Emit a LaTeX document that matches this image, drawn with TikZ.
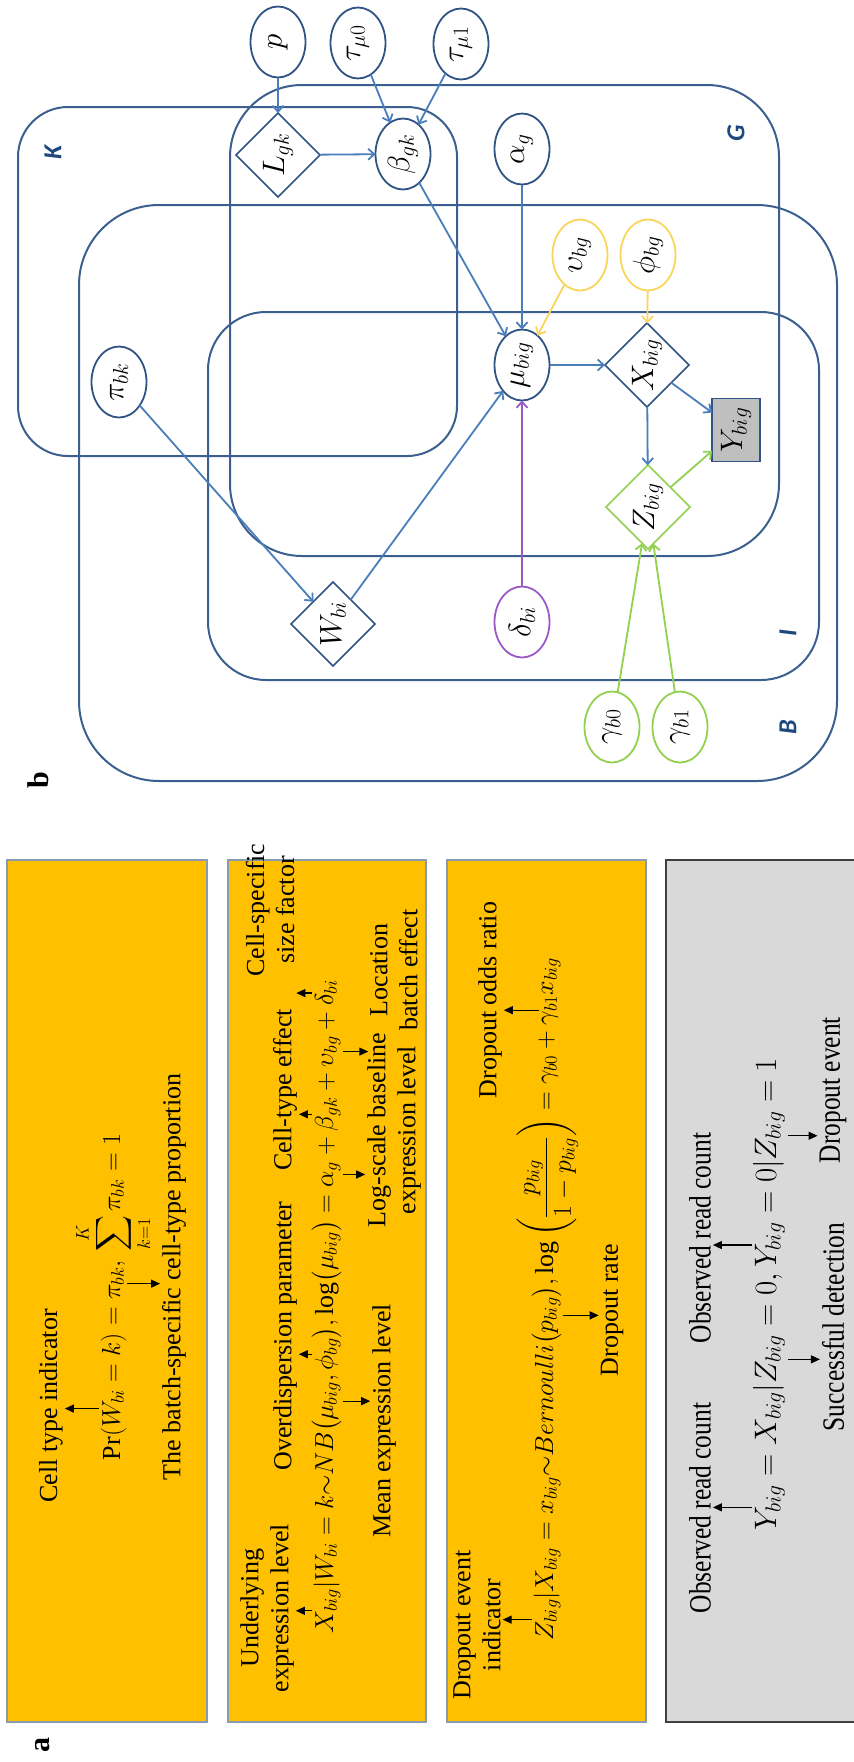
\documentclass[tikz,border=0pt]{standalone}
\usepackage{fix-cm}
\usepackage{amsmath}
\usepackage{fontspec}
\setmainfont{Liberation Serif}
\newfontfamily\platefont{Carlito}
\usetikzlibrary{shapes.geometric,arrows.meta}
\definecolor{plate}{HTML}{3B5F8E}
\definecolor{edgeblue}{HTML}{4A7EBB}
\definecolor{nodeblue}{HTML}{2F5383}
\definecolor{yel}{HTML}{F9D55C}
\definecolor{grn}{HTML}{92D050}
\definecolor{pur}{HTML}{9B59C8}
\definecolor{orng}{HTML}{FFC000}
\definecolor{obord}{HTML}{8A9BB0}
\definecolor{gfill}{HTML}{D9D9D9}
\definecolor{yfill}{HTML}{BFBFBF}
\definecolor{platelab}{HTML}{1F497D}
\tikzset{
  rot/.style={rotate=90, inner sep=0pt, outer sep=0pt},
  txt/.style={rot, font=\fontsize{26}{30}\selectfont, align=center},
  gtxt/.style={rot, xscale=0.82, font=\fontsize{31}{34}\selectfont, align=center},
  mth/.style={rot, font=\fontsize{26}{31}\selectfont, anchor=base west},
  gmth/.style={rot, font=\fontsize{31}{34}\selectfont, anchor=base west},
  aarr/.style={-{Triangle[length=9pt,width=8pt]}, line width=1.2pt, shorten <=3pt, shorten >=2pt},
  ell/.style={rot, ellipse, draw=nodeblue, line width=1.8pt, minimum width=71pt, minimum height=55pt, font=\fontsize{31}{33}\selectfont},
  dia/.style={rot, diamond, draw=nodeblue, line width=1.6pt, minimum width=84pt, minimum height=84pt, font=\fontsize{31}{33}\selectfont},
  platebox/.style={draw=plate, line width=2pt},
  platelabel/.style={rot, text=platelab, font=\fontsize{26}{26}\selectfont\platefont\bfseries\itshape},
  panellabel/.style={rot, font=\fontsize{30}{30}\selectfont\bfseries},
  e/.style={draw=edgeblue, line width=1.8pt, -{Straight Barb[length=6pt,width=11pt]}},
  obox/.style={draw=obord, fill=orng, line width=1.2pt},
  gbox/.style={draw=black!75, fill=gfill, line width=1.2pt},
}
\begin{document}
\begin{tikzpicture}[x=1pt,y=-1pt]
\useasboundingbox (0,0) rectangle (854,1762);
% ================= panel b =================
\draw[platebox, rounded corners=50pt] (18,107) rectangle (457,456);
\draw[platebox, rounded corners=72pt] (230,85) rectangle (779,556);
\draw[platebox, rounded corners=80pt] (79,205) rectangle (837,781);
\draw[platebox, rounded corners=58pt] (208,312) rectangle (819,680);
\node[platelabel] (labK) at (53,152) {K};
\node[platelabel] (labG) at (736,133) {G};
\node[platelabel] (labB) at (788,727) {B};
\node[platelabel] (labI) at (788,633) {I};

\node[ell] (p) at (278,42) {$p$};
\node[ell] (tau0) at (358,43) {$\tau_{\mu0}$};
\node[ell] (tau1) at (461,44) {$\tau_{\mu1}$};
\node[dia] (L) at (278,155) {$L_{gk}$};
\node[ell] (beta) at (403,154) {$\beta_{gk}$};
\node[ell] (alpha) at (522,149) {$\alpha_g$};
\node[ell] (pi) at (119,382) {$\pi_{bk}$};
\node[ell, draw=yel] (ups) at (580,255) {$\upsilon_{bg}$};
\node[ell, draw=yel] (phi) at (648,255) {$\phi_{bg}$};
\node[ell] (mu) at (522,365) {$\mu_{big}$};
\node[dia] (X) at (647,365) {$X_{big}$};
\node[rot, draw=nodeblue, fill=yfill, line width=1.4pt, minimum width=63pt, minimum height=48pt, font=\fontsize{31}{33}\selectfont] (Y) at (736,430) {$Y_{big}$};
\node[dia, draw=grn] (Z) at (648,507) {$Z_{big}$};
\node[dia] (W) at (333,624) {$W_{bi}$};
\node[ell, draw=pur] (delta) at (522,622) {$\delta_{bi}$};
\node[ell, draw=grn] (g0) at (612,727) {$\gamma_{b0}$};
\node[ell, draw=grn] (g1) at (680,727) {$\gamma_{b1}$};

\draw[e] (p) -- (L);
\draw[e] (tau0) -- (beta);
\draw[e] (tau1) -- (beta);
\draw[e] (L) -- (beta);
\draw[e] (beta) -- (mu);
\draw[e] (alpha) -- (mu);
\draw[e, draw=yel] (ups) -- (mu);
\draw[e, draw=yel] (phi) -- (X);
\draw[e] (mu) -- (X);
\draw[e] (X) -- (Y);
\draw[e] (X) -- (Z);
\draw[e, draw=grn] (Z) -- (Y);
\draw[e, draw=grn] (g0) -- (Z);
\draw[e, draw=grn] (g1) -- (Z);
\draw[e, draw=pur] (delta) -- (mu);
\draw[e] (pi) -- (W);
\draw[e] (W) -- (mu);

\node[panellabel] (pb) at (38,780) {b};
% ================= panel a =================
\node[panellabel] (pa) at (43,1745) {a};
\draw[obox] (7,860) rectangle (207,1722);
\draw[obox] (228,860) rectangle (426,1722);
\draw[obox] (447,860) rectangle (646,1722);
\draw[gbox] (666,860) rectangle (860,1722);

% box 1
\node[mth] (a1) at (120,1460) {$\Pr($};
\node[mth] (a2) at (a1.base east) {$W_{bi}$};
\node[mth] (a3) at (a2.base east) {${}=k)={}$};
\node[mth] (a4) at (a3.base east) {$\pi_{bk}$};
\node[mth] (a5) at (a4.base east) {$,\,\displaystyle\sum_{k=1}^{K}\pi_{bk}=1$};
\node[txt] (cti) at (51,1406) {Cell type indicator};
\node[txt] (bsp) at (174,1277) {The batch-specific cell-type proportion};
\draw[aarr] (a2.north) -- (a2.north -| cti.south);
\draw[aarr] (a4.south) -- (a4.south -| bsp.north);

% box 2
\node[mth] (b1) at (333,1633) {$X_{big}$};
\node[mth] (b2) at (b1.base east) {$|W_{bi}=k{\sim}NB\bigl($};
\node[mth] (b3) at (b2.base east) {$\mu_{big}$};
\node[mth] (b4) at (b3.base east) {$,\,$};
\node[mth] (b5) at (b4.base east) {$\phi_{bg}$};
\node[mth] (b6) at (b5.base east) {$\bigr),\log\bigl(\mu_{big}\bigr)={}$};
\node[mth] (b7) at (b6.base east) {$\alpha_g$};
\node[mth] (b8) at (b7.base east) {${}+{}$};
\node[mth] (b9) at (b8.base east) {$\beta_{gk}$};
\node[mth] (b10) at (b9.base east) {${}+{}$};
\node[mth] (b11) at (b10.base east) {$\upsilon_{bg}$};
\node[mth] (b12) at (b11.base east) {${}+{}$};
\node[mth] (b13) at (b12.base east) {$\delta_{bi}$};
\node[txt] (und) at (267,1608) {Underlying\\expression level};
\node[txt] (ovd) at (285,1336) {Overdispersion parameter};
\node[txt] (cte) at (285,1090) {Cell-type effect};
\node[txt] (csp) at (270,910) {Cell-specific\\size factor};
\node[txt] (mel) at (384,1421) {Mean expression level};
\node[txt] (lsb) at (394,1130) {Log-scale baseline\\expression level};
\node[txt] (loc) at (394,970) {Location\\batch effect};
\draw[aarr] (b1.north) -- (b1.north -| und.south);
\draw[aarr] (b5.north) -- (b5.north -| ovd.south);
\draw[aarr] (b9.north) -- (b9.north -| cte.south);
\draw[aarr] (b13.north) -- (b13.north -| csp.south);
\draw[aarr] (b3.south) -- (b3.south -| mel.north);
\draw[aarr] (b7.south) -- (b7.south -| lsb.north);
\draw[aarr] (b11.south) -- (b11.south -| loc.north);

% box 3
\node[mth] (c1) at (553,1640) {$Z_{big}$};
\node[mth] (c2) at (c1.base east) {$|X_{big}=x_{big}{\sim}Bernoulli\bigl($};
\node[mth] (c3) at (c2.base east) {$p_{big}$};
\node[mth] (c4) at (c3.base east) {$\bigr),\log\left(\dfrac{p_{big}}{1-p_{big}}\right)=\gamma_{b0}+{}$};
\node[mth] (c5) at (c4.base east) {$\gamma_{b1}$};
\node[mth] (c6) at (c5.base east) {$x_{big}$};
\node[txt] (dei) at (477,1625) {Dropout event\\indicator};
\node[txt] (dor) at (490,1000) {Dropout odds ratio};
\node[txt] (dr) at (612,1310) {Dropout rate};
\draw[aarr] (c1.north) -- (c1.north -| dei.south);
\draw[aarr] (c3.south) -- (c3.south -| dr.north);
\draw[aarr] (c5.north) -- (c5.north -| dor.south);

% gray box
\node[gmth] (r1) at (776,1530) {$Y_{big}$};
\node[gmth] (r2) at (r1.base east) {${}=X_{big}|$};
\node[gmth] (r3) at (r2.base east) {$Z_{big}$};
\node[gmth] (r4) at (r3.base east) {${}=0,\,$};
\node[gmth] (r5) at (r4.base east) {$Y_{big}$};
\node[gmth] (r6) at (r5.base east) {${}=0|$};
\node[gmth] (r7) at (r6.base east) {$Z_{big}$};
\node[gmth] (r8) at (r7.base east) {${}=1$};
\node[gtxt] (orc1) at (700,1508) {Observed read count};
\node[gtxt] (orc2) at (700,1238) {Observed read count};
\node[gtxt] (sd) at (833,1327) {Successful detection};
\node[gtxt] (de) at (833,1090) {Dropout event};
\draw[aarr] (r1.north) -- (r1.north -| orc1.south);
\draw[aarr] (r5.north) -- (r5.north -| orc2.south);
\draw[aarr] (r3.south) -- (r3.south -| sd.north);
\draw[aarr] (r7.south) -- (r7.south -| de.north);
\end{tikzpicture}
\end{document}
